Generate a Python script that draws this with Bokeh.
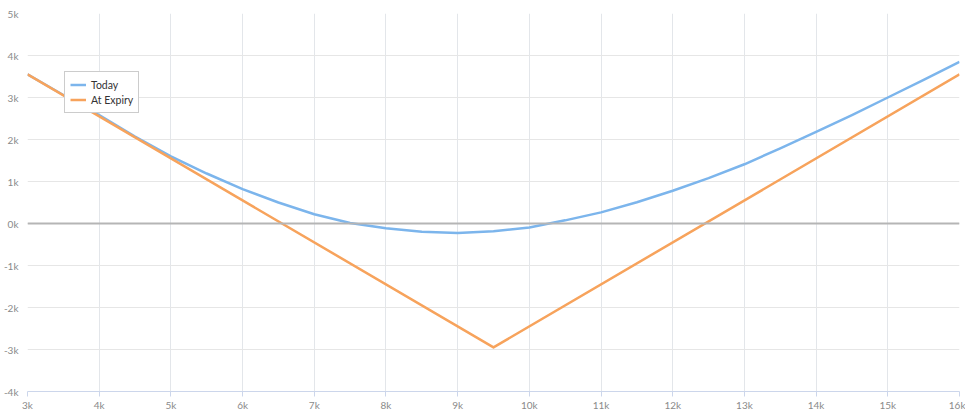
from bokeh.plotting import figure
from bokeh.models import FixedTicker, Span, Legend, LegendItem, Range1d
from bokeh.embed import file_html
from bokeh.resources import INLINE

# ---- data ----
price = [3000, 3500, 4000, 4500, 5000, 5500, 6000, 6500, 7000, 7500, 8000, 8500,
         9000, 9500, 10000, 10500, 11000, 11500, 12000, 12500, 13000, 13500,
         14000, 14500, 15000, 15500, 16000]
today = [3550, 3060, 2580, 2070, 1600, 1190, 820, 500, 220, 10, -115, -195,
         -225, -185, -95, 75, 265, 505, 780, 1080, 1410, 1790,
         2180, 2580, 3000, 3420, 3850]
expiry_x = [3000, 9500, 16000]
expiry_y = [3550, -2950, 3550]

x_ticks = [3000, 4000, 5000, 6000, 7000, 8000, 9000, 10000, 11000, 12000, 13000, 14000, 15000, 16000]
x_labels = ["3k", "4k", "5k", "6k", "7k", "8k", "9k", "10k", "11k", "12k", "13k", "14k", "15k", "16k"]
y_ticks = [-4000, -3000, -2000, -1000, 0, 1000, 2000, 3000, 4000, 5000]
y_labels = ["-4k", "-3k", "-2k", "-1k", "0k", "1k", "2k", "3k", "4k", "5k"]
zero_level = 0

series_names = ["Today", "At Expiry"]
colors = ["#7cb5ec", "#f7a35c"]

FONT = "Lato"

p = figure(frame_width=932, frame_height=378, output_backend="svg", toolbar_location=None,
           x_range=Range1d(3000, 16000), y_range=Range1d(-4000, 5000),
           min_border_left=20, min_border_right=6, min_border_top=13, min_border_bottom=18)
p.outline_line_color = None
p.background_fill_color = "white"

for ax, ticks, labels in ((p.xaxis[0], x_ticks, x_labels), (p.yaxis[0], y_ticks, y_labels)):
    ax.ticker = FixedTicker(ticks=ticks)
    ax.major_label_overrides = {t: l for t, l in zip(ticks, labels)}
    ax.major_label_text_font = FONT
    ax.major_label_text_font_size = "10px"
    ax.major_label_text_color = "#8a8a8a"
    ax.minor_tick_line_color = None

p.xaxis.axis_line_color = "#ccd6eb"
p.xaxis.major_tick_line_color = "#ccd6eb"
p.xaxis.major_tick_out = 5
p.xaxis.major_tick_in = 0
p.xaxis.major_label_standoff = 2

p.yaxis.axis_line_color = None
p.yaxis.major_tick_line_color = None
p.yaxis.major_label_standoff = 3

p.xgrid.ticker = FixedTicker(ticks=x_ticks)
p.ygrid.ticker = FixedTicker(ticks=y_ticks)
p.xgrid.grid_line_color = "#e3e6ea"
p.ygrid.grid_line_color = "#e6e6e6"

p.add_layout(Span(location=zero_level, dimension="width", line_color="#b5b5b5", line_width=2))

r1 = p.line(price, today, line_color=colors[0], line_width=2.5, line_join="round")
r2 = p.line(expiry_x, expiry_y, line_color=colors[1], line_width=2.5, line_join="round")

legend = Legend(items=[LegendItem(label=series_names[0], renderers=[r1]),
                       LegendItem(label=series_names[1], renderers=[r2])],
                location=(37, 278), border_line_color="#999999", border_line_width=1,
                background_fill_color="white", background_fill_alpha=1,
                label_text_font=FONT, label_text_font_size="10.5px", label_text_color="#333333",
                padding=5, spacing=0, margin=0, glyph_width=16, glyph_height=15,
                label_height=15, label_standoff=5)
p.add_layout(legend)

open("out.html", "w").write(file_html(p, INLINE))
